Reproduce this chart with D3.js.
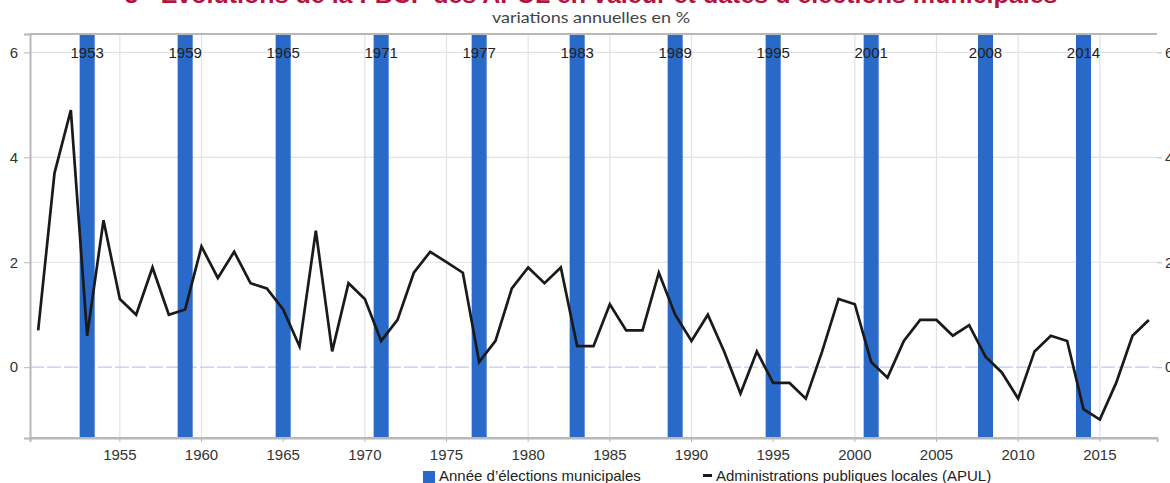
<!DOCTYPE html>
<html><head><meta charset="utf-8">
<script src="https://cdn.jsdelivr.net/npm/d3@7"></script>
<style>body{margin:0;background:#fff}svg{display:block}</style>
</head><body>
<svg id="c" width="1170" height="483"></svg>
<script>
const years = d3.range(1950, 2019);
const apul = [0.7,3.7,4.9,0.6,2.8,1.3,1.0,1.9,1.0,1.1,
  2.3,1.7,2.2,1.6,1.5,1.1,0.4,2.6,0.3,1.6,
  1.3,0.5,0.9,1.8,2.2,2.0,1.8,0.1,0.5,1.5,
  1.9,1.6,1.9,0.4,0.4,1.2,0.7,0.7,1.8,1.0,
  0.5,1.0,0.3,-0.5,0.3,-0.3,-0.3,-0.6,0.3,1.3,
  1.2,0.1,-0.2,0.5,0.9,0.9,0.6,0.8,0.2,-0.1,
  -0.6,0.3,0.6,0.5,-0.8,-1.0,-0.3,0.6,0.9];
const electionYears = [1953,1959,1965,1971,1977,1983,1989,1995,2001,2008,2014];
const xTicks = [1955,1960,1965,1970,1975,1980,1985,1990,1995,2000,2005,2010,2015];
const yTicks = [0,2,4,6];
const title = "5 - Évolutions de la FBCF des APUL en valeur et dates d’élections municipales";
const subtitle = "variations annuelles en %";
const legendLabels = ["Année d’élections municipales", "Administrations publiques locales (APUL)"];

const L = 30, R = 1157, T = 34, B = 438;
const blue = "#2969c8";
const svg = d3.select("#c");
const font = "'Liberation Sans', Arial, sans-serif";

const x = d3.scaleBand().domain(years).range([L, R]).paddingInner(0.08).paddingOuter(0.04);
const cx = d => x(d) + x.bandwidth() / 2;
const y = d3.scaleLinear().domain([-1.35, 6.35]).range([B, T]);

// title / subtitle
svg.append("text").attr("x", 591).attr("y", 3).attr("text-anchor", "middle")
  .attr("font-family", "'Liberation Sans', Arial, sans-serif").attr("font-weight", "bold")
  .attr("font-size", 23).attr("fill", "#b5133f")
  .attr("textLength", 933).attr("lengthAdjust", "spacingAndGlyphs").text(title);
svg.append("text").attr("x", 591).attr("y", 23).attr("text-anchor", "middle")
  .attr("font-family", "Lato, 'Open Sans', sans-serif").attr("font-size", 15).attr("fill", "#444")
  .attr("textLength", 198).attr("lengthAdjust", "spacingAndGlyphs").text(subtitle);

// gridlines
const g = svg.append("g");
g.selectAll(".vg").data(xTicks).join("line")
  .attr("x1", d => cx(d)).attr("x2", d => cx(d)).attr("y1", T).attr("y2", B)
  .attr("stroke", "#e2e2e2").attr("stroke-width", 1.2);
g.selectAll(".hg").data(yTicks.filter(d => d !== 0)).join("line")
  .attr("x1", L).attr("x2", R).attr("y1", d => y(d)).attr("y2", d => y(d))
  .attr("stroke", "#e2e2e2").attr("stroke-width", 1.2);
g.append("line").attr("x1", L).attr("x2", R).attr("y1", y(0)).attr("y2", y(0))
  .attr("stroke", "#bccbea").attr("stroke-width", 1.3).attr("stroke-dasharray", "14,3");

// election bars
svg.append("g").selectAll("rect").data(electionYears).join("rect")
  .attr("x", d => x(d)).attr("width", x.bandwidth())
  .attr("y", T).attr("height", B - T).attr("fill", blue);

// frame
svg.append("line").attr("x1", L).attr("x2", R).attr("y1", T).attr("y2", T).attr("stroke", "#b8b8b8").attr("stroke-width", 2);

// axes
const yl = svg.append("g").attr("transform", `translate(${L},0)`)
  .call(d3.axisLeft(y).tickValues(yTicks).tickSize(6).tickPadding(6).tickFormat(d3.format("d")));
const yr = svg.append("g").attr("transform", `translate(${R},0)`)
  .call(d3.axisRight(y).tickValues(yTicks).tickSize(5).tickPadding(3).tickFormat(d3.format("d")));
const xa = svg.append("g").attr("transform", `translate(0,${B})`)
  .call(d3.axisBottom(x).tickValues(xTicks).tickSize(4).tickPadding(7));
[yl, yr, xa].forEach(a => {
  a.select(".domain").attr("stroke", "#b8b8b8").attr("stroke-width", 2);
  a.selectAll(".tick line").attr("stroke", "#b8b8b8");
  a.selectAll(".tick text").attr("font-family", font).attr("font-size", 15).attr("fill", "#333");
});
yr.select(".domain").remove();
svg.append("line").attr("x1", L).attr("x2", R).attr("y1", B).attr("y2", B).attr("stroke", "#b8b8b8").attr("stroke-width", 2);

// line
const line = d3.line().x((d, i) => cx(years[i])).y(d => y(d));
svg.append("path").datum(apul).attr("d", line).attr("fill", "none")
  .attr("stroke", "#1a1a1a").attr("stroke-width", 2.7).attr("stroke-linejoin", "miter");

// election labels
svg.append("g").selectAll("text").data(electionYears).join("text")
  .attr("x", d => cx(d)).attr("y", y(6)).attr("dy", "0.36em").attr("text-anchor", "middle")
  .attr("font-family", font).attr("font-size", 15).attr("fill", "#222").text(d => d);

// legend
const lg = svg.append("g").attr("font-family", font).attr("font-size", 15).attr("fill", "#222");
lg.append("rect").attr("x", 423).attr("y", 471).attr("width", 12).attr("height", 12).attr("fill", blue);
lg.append("text").attr("x", 439).attr("y", 481).text(legendLabels[0]);
lg.append("line").attr("x1", 703).attr("x2", 712).attr("y1", 475.5).attr("y2", 475.5).attr("stroke", "#1a1a1a").attr("stroke-width", 3);
lg.append("text").attr("x", 716).attr("y", 481).text(legendLabels[1]);
</script>
</body></html>
